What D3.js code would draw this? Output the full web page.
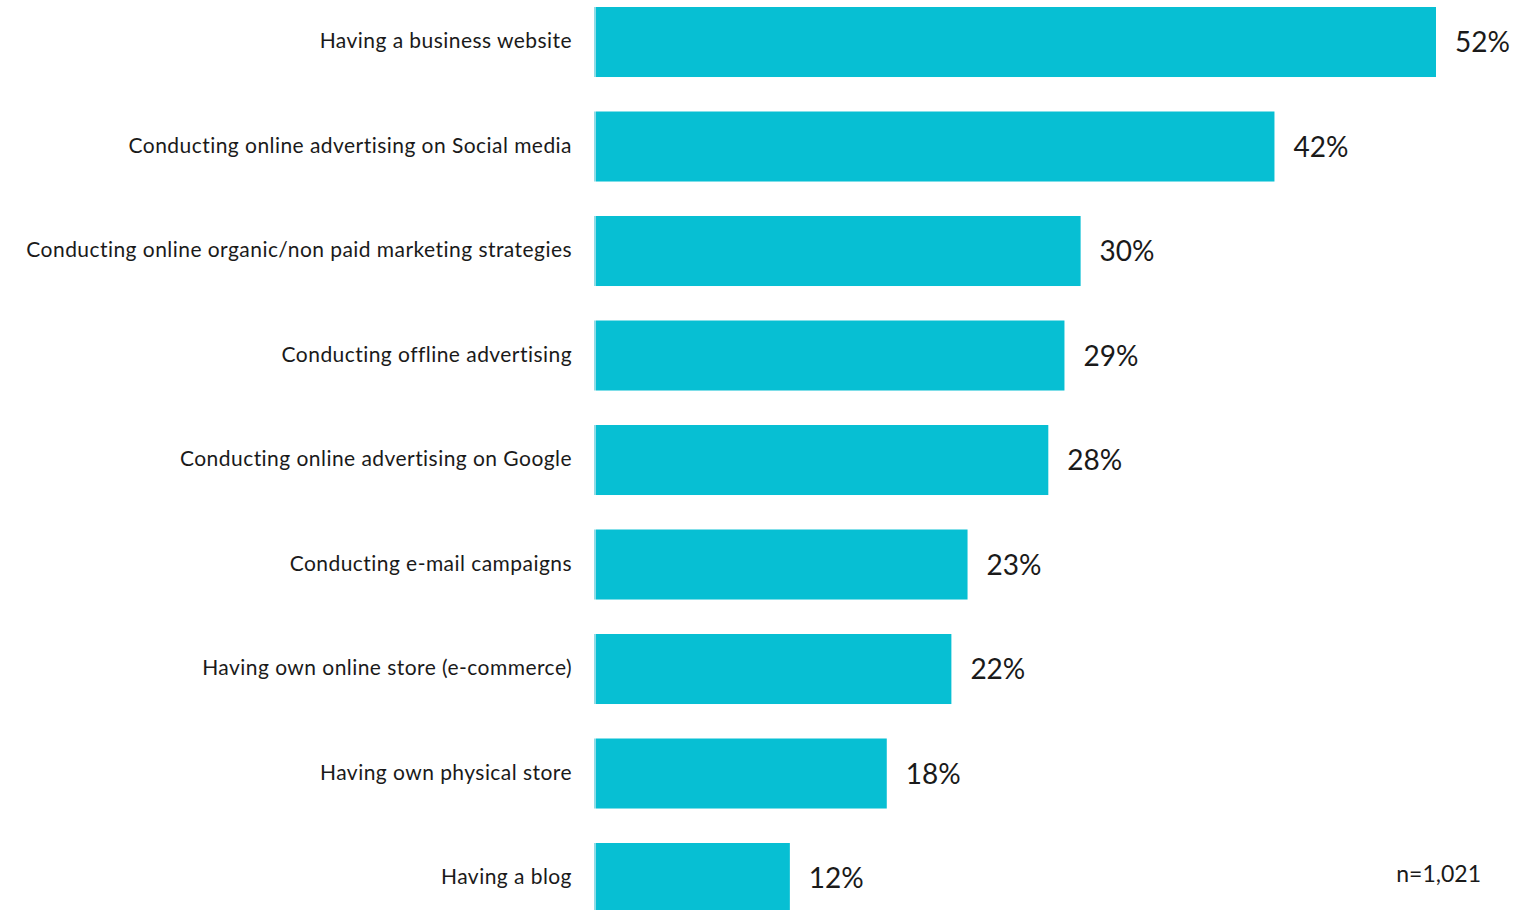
<!DOCTYPE html>
<html>
<head>
<meta charset="utf-8">
<script src="https://cdn.jsdelivr.net/npm/d3@7"></script>
<style>
  html, body { margin: 0; padding: 0; background: #ffffff; }
  svg { display: block; }
  .cat { font-family: "Lato", "Open Sans", sans-serif; font-size: 21px; letter-spacing: 0.45px; fill: #1a1a1a; }
  .val { font-family: "Lato", "Open Sans", sans-serif; font-size: 28px; fill: #1a1a1a; }
  .note { font-family: "Lato", "Open Sans", sans-serif; font-size: 23px; fill: #1a1a1a; }
</style>
</head>
<body>
<svg id="chart" width="1519" height="910"></svg>
<script>
// Marketing activities, share of respondents (%)
const categories = [
  "Having a business website",
  "Conducting online advertising on Social media",
  "Conducting online organic/non paid marketing strategies",
  "Conducting offline advertising",
  "Conducting online advertising on Google",
  "Conducting e-mail campaigns",
  "Having own online store (e-commerce)",
  "Having own physical store",
  "Having a blog"
];
const values = [52, 42, 30, 29, 28, 23, 22, 18, 12];
const sampleNote = "n=1,021";

const barColor = "#07bfd3";
const edgeColor = "#8fdce6";

const svg = d3.select("#chart");

const x = d3.scaleLinear().domain([0, 52]).range([596, 1436]);
const y = d3.scaleBand()
  .domain(categories)
  .range([-10.24, 930.26])
  .paddingInner(0.33)
  .paddingOuter(0.165);

const data = categories.map((c, i) => ({ cat: c, val: values[i] }));

// bars
svg.append("g").selectAll("rect")
  .data(data).join("rect")
  .attr("x", x(0))
  .attr("y", d => y(d.cat))
  .attr("width", d => x(d.val) - x(0))
  .attr("height", y.bandwidth())
  .attr("fill", barColor);

// pale left edge on each bar
svg.append("g").selectAll("rect")
  .data(data).join("rect")
  .attr("x", x(0) - 2)
  .attr("y", d => y(d.cat))
  .attr("width", 2)
  .attr("height", y.bandwidth())
  .attr("fill", edgeColor);

// category labels
const axis = d3.axisLeft(y).tickSize(0).tickPadding(0);
const gAxis = svg.append("g").attr("transform", "translate(572,0)").call(axis);
gAxis.select(".domain").remove();
gAxis.selectAll("text")
  .attr("class", "cat")
  .attr("fill", null)
  .attr("font-size", null)
  .attr("font-family", null)
  .attr("dy", "0.3em");

// value labels
svg.append("g").selectAll("text")
  .data(data).join("text")
  .attr("class", "val")
  .attr("x", d => x(d.val) + 19)
  .attr("y", d => y(d.cat) + y.bandwidth() / 2)
  .attr("dy", "0.36em")
  .text(d => d.val + "%");

// sample size
svg.append("text")
  .attr("class", "note")
  .attr("x", 1481)
  .attr("y", 882)
  .attr("text-anchor", "end")
  .text(sampleNote);
</script>
</body>
</html>
